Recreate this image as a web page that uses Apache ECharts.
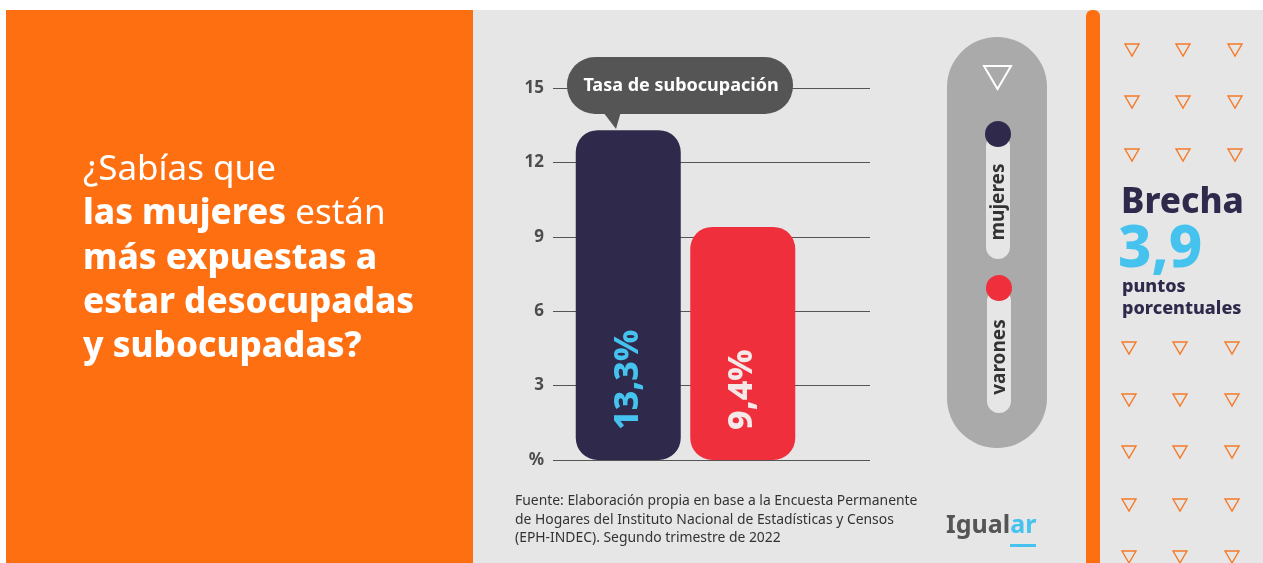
<!DOCTYPE html>
<html>
<head>
<meta charset="utf-8">
<title>Tasa de subocupación</title>
<script src="https://cdn.jsdelivr.net/npm/echarts@6/dist/echarts.min.js"></script>
<style>
html, body { margin: 0; padding: 0; background: #fff; }
#main { width: 1263px; height: 563px; }
</style>
</head>
<body>
<div id="main"></div>
<script>
// datos
var categorias = ['mujeres', 'varones'];
var tasas = [13.3, 9.4];
var ejeMin = 0;
var ejeMax = 15;
var ejeIntervalo = 3;
var titulo = 'Tasa de subocupación';
var fuente = [
    'Fuente: Elaboración propia en base a la Encuesta Permanente',
    'de Hogares del Instituto Nacional de Estadísticas y Censos',
    '(EPH-INDEC). Segundo trimestre de 2022'
];

var NARANJA = '#fe6f11';
var GRIS = '#e6e6e6';
var AZUL = '#2f2a4c';
var ROJO = '#ef2f3b';
var CELESTE = '#45c3ee';
var FONT = '"Noto Sans", sans-serif';
var PESO = 800;

var coloresBarra = [AZUL, ROJO];
var coloresTexto = [CELESTE, '#f5e8e8'];

function fmt(v) {
    return v.toFixed(1).replace('.', ',');
}

var chart = echarts.init(document.getElementById('main'), null, { renderer: 'canvas' });

// fondo y paneles
var graficos = [
    { type: 'rect', z: -10, shape: { x: 0, y: 0, width: 1263, height: 563 }, style: { fill: '#ffffff' } },
    { type: 'rect', z: -9, shape: { x: 6, y: 10, width: 467, height: 553 }, style: { fill: NARANJA } },
    { type: 'rect', z: -9, shape: { x: 473, y: 10, width: 790, height: 553 }, style: { fill: GRIS } },
    { type: 'rect', z: -8, shape: { x: 1086, y: 10, width: 14, height: 553, r: [6, 6, 0, 0] }, style: { fill: NARANJA } },
    // pregunta
    {
        type: 'text', x: 83, y: 148,
        style: {
            text: '{r|¿Sabías que}\n{b|las mujeres}{r| están}\n{b|más expuestas a}\n{b|estar desocupadas}\n{b|y subocupadas?}',
            fill: '#fff', align: 'left', verticalAlign: 'top',
            rich: {
                r: { fontFamily: FONT, fontSize: 35, fontWeight: 'normal', lineHeight: 44.3, fill: '#fff' },
                b: { fontFamily: FONT, fontSize: 35, fontWeight: PESO, lineHeight: 44.3, fill: '#fff' }
            }
        }
    },
    // globo del titulo
    { type: 'rect', z: 10, shape: { x: 567, y: 57, width: 226, height: 57, r: 28 }, style: { fill: '#555555' } },
    { type: 'polygon', z: 10, shape: { points: [[600, 108], [622, 108], [616, 129]] }, style: { fill: '#555555' } },
    {
        type: 'text', z: 11, x: 681, y: 86,
        style: { text: titulo, fill: '#fff', fontFamily: FONT, fontSize: 18, fontWeight: 'bold', align: 'center', verticalAlign: 'middle' }
    },
    // fuente
    {
        type: 'text', x: 515, y: 492,
        style: { text: fuente.join('\n'), fill: '#333', fontFamily: FONT, fontSize: 13.9, lineHeight: 18.5, align: 'left', verticalAlign: 'top' }
    },
    // logo
    {
        type: 'text', x: 946, y: 526,
        style: {
            text: '{g|Igual}{a|ar}', align: 'left', verticalAlign: 'middle',
            rich: {
                g: { fontFamily: FONT, fontSize: 25, fontWeight: 'bold', fill: '#555' },
                a: { fontFamily: FONT, fontSize: 25, fontWeight: 'bold', fill: CELESTE }
            }
        }
    },
    { type: 'rect', shape: { x: 1010, y: 544, width: 26, height: 3 }, style: { fill: CELESTE } },
    // leyenda
    { type: 'rect', shape: { x: 947, y: 37, width: 100, height: 411, r: 50 }, style: { fill: '#aaaaaa' } },
    { type: 'polygon', shape: { points: [[984, 66], [1011, 66], [997.5, 89]] }, style: { fill: 'none', stroke: '#fff', lineWidth: 2 } },
    { type: 'rect', shape: { x: 986, y: 134, width: 24, height: 125, r: 12 }, style: { fill: GRIS } },
    { type: 'rect', shape: { x: 987, y: 289, width: 24, height: 124, r: 12 }, style: { fill: GRIS } },
    { type: 'circle', shape: { cx: 998, cy: 134, r: 13 }, style: { fill: coloresBarra[0] } },
    { type: 'circle', shape: { cx: 999, cy: 288, r: 13 }, style: { fill: coloresBarra[1] } },
    {
        type: 'text', x: 999, y: 202, rotation: Math.PI / 2,
        style: { text: categorias[0], fill: '#333', fontFamily: FONT, fontSize: 19, fontWeight: 'bold', align: 'center', verticalAlign: 'middle' }
    },
    {
        type: 'text', x: 1000, y: 357, rotation: Math.PI / 2,
        style: { text: categorias[1], fill: '#333', fontFamily: FONT, fontSize: 19, fontWeight: 'bold', align: 'center', verticalAlign: 'middle' }
    },
    // brecha
    {
        type: 'text', x: 1121, y: 221,
        style: { text: 'Brecha', fill: AZUL, fontFamily: FONT, fontSize: 35, fontWeight: PESO, align: 'left', verticalAlign: 'bottom' }
    },
    {
        type: 'text', x: 1118, y: 279,
        style: { text: fmt(tasas[0] - tasas[1]), fill: CELESTE, fontFamily: FONT, fontSize: 58, fontWeight: PESO, align: 'left', verticalAlign: 'bottom' }
    },
    {
        type: 'text', x: 1122, y: 276,
        style: { text: 'puntos\nporcentuales', fill: AZUL, fontFamily: FONT, fontSize: 18, fontWeight: PESO, lineHeight: 22, align: 'left', verticalAlign: 'top' }
    }
];

// triangulos decorativos
var filas = [50, 102, 155, 348, 400, 452, 505, 557];
var columnas = [1132, 1183, 1235];
filas.forEach(function (fy, i) {
    columnas.forEach(function (cx) {
        var dx = i > 2 ? -3 : 0;
        graficos.push({
            type: 'polygon',
            shape: { points: [[cx + dx - 7, fy - 6], [cx + dx + 7, fy - 6], [cx + dx, fy + 6]] },
            style: { fill: 'none', stroke: '#f57a28', lineWidth: 1.4 }
        });
    });
});

var option = {
    backgroundColor: '#ffffff',
    animation: false,
    grid: [
        { left: 553, width: 317, top: 88, height: 372 },
        { left: 571, width: 229, top: 88, height: 372 }
    ],
    xAxis: [
        { type: 'category', gridIndex: 0, data: categorias, show: false },
        { type: 'category', gridIndex: 1, data: categorias, show: false }
    ],
    yAxis: [
        {
            type: 'value', gridIndex: 0, min: ejeMin, max: ejeMax, interval: ejeIntervalo,
            axisLine: { show: false },
            axisTick: { show: false },
            axisLabel: {
                margin: 9, color: '#4d4d4d', fontFamily: FONT, fontSize: 17, fontWeight: 'bold',
                formatter: function (v) { return v === 0 ? '%' : v; }
            },
            splitLine: { lineStyle: { color: '#555', width: 1 } }
        },
        { type: 'value', gridIndex: 1, min: ejeMin, max: ejeMax, show: false, splitLine: { show: false } }
    ],
    series: [{
        type: 'bar',
        xAxisIndex: 1,
        yAxisIndex: 1,
        barWidth: 105,
        data: tasas.map(function (v, i) {
            return {
                value: v,
                itemStyle: { color: coloresBarra[i], borderRadius: 22 },
                label: { color: coloresTexto[i] }
            };
        }),
        label: {
            show: true,
            position: 'insideBottom',
            rotate: 90,
            align: 'left',
            verticalAlign: 'middle',
            distance: 30,
            fontFamily: FONT,
            fontSize: 34,
            fontWeight: PESO,
            formatter: function (p) { return fmt(p.value) + '%'; }
        }
    }],
    graphic: { elements: graficos }
};

chart.setOption(option);
</script>
</body>
</html>
